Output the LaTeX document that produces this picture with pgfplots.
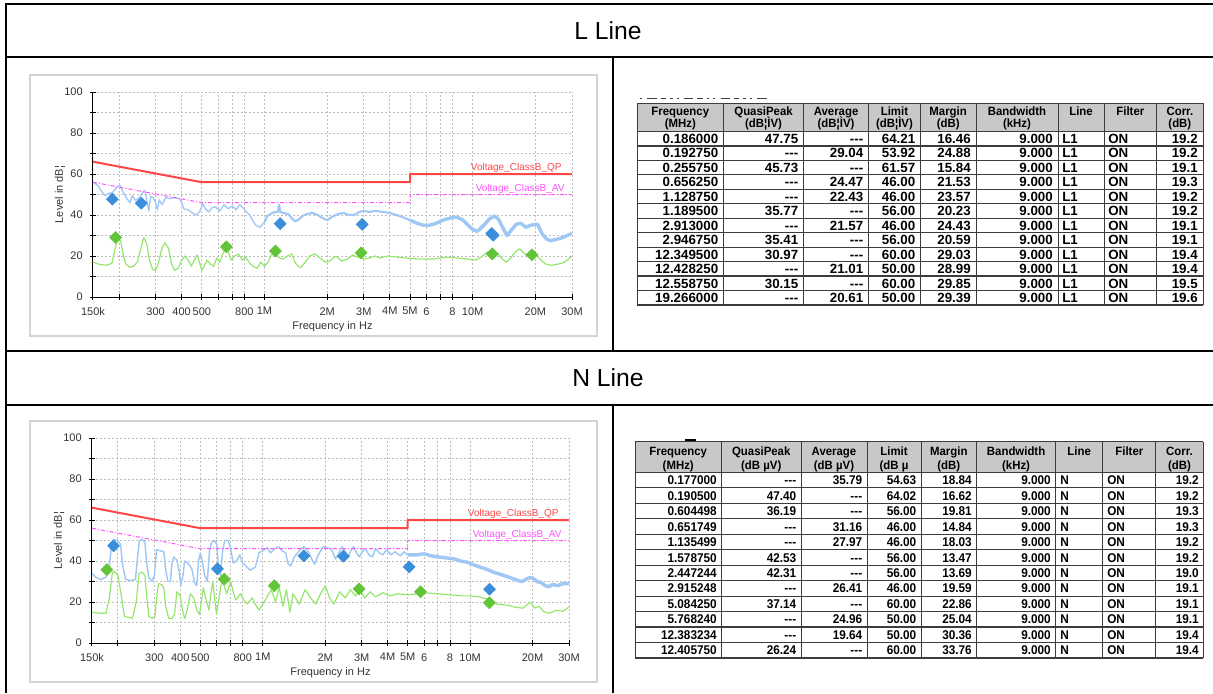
\documentclass[border=0pt]{standalone}
\usepackage{fontspec}
\setmainfont{Liberation Sans}
\newfontfamily\hdrfont[FakeStretch=0.95]{Liberation Sans}
\newfontfamily\tbfont[FakeStretch=0.93]{Liberation Sans}
\usepackage{pgfplots}
\pgfplotsset{compat=1.18}

\definecolor{qpred}{RGB}{255,70,70}
\definecolor{avmag}{RGB}{255,80,255}
\definecolor{trblue}{RGB}{160,200,245}
\definecolor{trgreen}{RGB}{150,230,110}
\definecolor{mkblue}{RGB}{58,142,218}
\definecolor{mkgreen}{RGB}{98,196,56}
\definecolor{gridg}{RGB}{190,190,190}
\definecolor{hdrgray}{RGB}{200,200,200}
\definecolor{frameg}{RGB}{212,212,212}
\definecolor{tabline}{RGB}{60,60,60}

\newcommand\nd{-{}-{}-}
\newcommand\chartfont{\fontsize{8.25}{10}\selectfont}

\pgfplotsset{/pgf/number format/assume math mode=true}
\pgfplotsset{
  qpmark/.style={only marks, mark=square*, mark size=3.2pt, mark options={rotate=45, fill=mkblue, draw=mkblue}},
  avmark/.style={only marks, mark=square*, mark size=3.2pt, mark options={rotate=45, fill=mkgreen, draw=mkgreen}},
  emiaxis/.style={
    scale only axis,
    width=359.25pt, height=153.75pt,
    xmin=0.15, xmax=30, ymin=0, ymax=100,
    axis lines=left, axis line style={-, black, line width=0.75pt},
    xtick={0.15,0.3,0.4,0.5,0.8,1,2,3,4,5,6,8,10,20,30},
    xticklabels={150k,300,400,500,800,1M,2M,3M,4M,5M,6,8,10M,20M,30M},
    minor xtick={0.2,0.6,0.7,7},
    ytick={0,20,40,60,80,100}, minor ytick={10,30,50,70,90},
    tick align=center, major tick length=4.5pt, minor tick length=4.5pt,
    tick style={black, line width=0.75pt},
    grid=both,
    major grid style={gridg, dash pattern=on 1.5pt off 1.5pt, line width=0.75pt},
    minor grid style={gridg, dash pattern=on 1.5pt off 1.5pt, line width=0.75pt},
    tick label style={font=\chartfont, text=black!80},
    xticklabel style={yshift=-2pt}, yticklabel style={xshift=-2pt},
    xlabel={Frequency in Hz}, ylabel={Level in dB¦},
    label style={font=\chartfont, text=black!80},
    xlabel style={at={(axis description cs:0.5,-0.146)}, anchor=center},
    ylabel style={at={(axis description cs:-0.069,0.5)}, anchor=center},
    every axis plot/.append style={line join=round},
  }
}

\begin{document}
\begin{tikzpicture}
\begin{scope}[x=0.75pt, y=-0.75pt]
\useasboundingbox (0,0) rectangle (1213,693);
% outer layout
\draw[black, line width=1.5pt] (6,4) -- (1213,4);
\draw[black, line width=1.5pt] (6,3) -- (6,693);
\draw[black, line width=1.5pt] (6,57) -- (1213,57);
\draw[black, line width=1.5pt] (6,351) -- (1213,351);
\draw[black, line width=1.5pt] (6,405) -- (1213,405);
\draw[black, line width=1.5pt] (613,57) -- (613,351);
\draw[black, line width=1.5pt] (613,405) -- (613,693);
\node[font=\fontsize{18.5}{20}\selectfont] at (608,31) {L Line};
\node[font=\fontsize{18.5}{20}\selectfont] at (608,378) {N Line};
% chart frames
\draw[frameg, line width=1.5pt] (30,75) rectangle (597,336);
\draw[frameg, line width=1.5pt] (30,421) rectangle (597,682);
\coordinate (p1) at (93,297);
\coordinate (p2) at (92,643);

% ---- table 1 (L line)
\fill[hdrgray] (637,103.3) rectangle (1203,131.5);
\draw[black!75, line width=0.9pt, dash pattern=on 1.5pt off 4pt on 7pt off 3pt on 4pt off 3pt on 2pt off 3pt] (640,98.5) -- (768,98.5);
\foreach \cx in {637,723.6,803.5,868.6,920.3,976,1058,1104,1156.7,1203}
  \draw[tabline, line width=0.75pt] (\cx,103.3) -- (\cx,305);
\draw[tabline, line width=0.9pt] (637,103.3) -- (1203,103.3);
\foreach \r in {0,...,12}
  \draw[tabline, line width=0.9pt] (637,{131.5+14.458*\r}) -- (1203,{131.5+14.458*\r});
\begin{scope}[every node/.style={anchor=base, inner sep=0pt, font=\hdrfont\bfseries\fontsize{9}{10}\selectfont}]
\node at (680.3,115.5) {Frequency};  \node at (680.3,127) {(MHz)};
\node at (763.55,115.5) {QuasiPeak}; \node at (763.55,127) {(dB¦ÌV)};
\node at (836.05,115.5) {Average};   \node at (836.05,127) {(dB¦ÌV)};
\node at (894.45,115.5) {Limit};     \node at (894.45,127) {(dB¦ÌV)};
\node at (948.15,115.5) {Margin};    \node at (948.15,127) {(dB)};
\node at (1017,115.5) {Bandwidth};   \node at (1017,127) {(kHz)};
\node at (1081,115.5) {Line};
\node at (1130.35,115.5) {Filter};
\node at (1179.85,115.5) {Corr.};    \node at (1179.85,127) {(dB)};
\end{scope}
\begin{scope}[every node/.style={inner sep=0pt, font=\bfseries\fontsize{10}{12}\selectfont}]
\foreach \f/\q/\a/\l/\m/\c [count=\i from 0] in {
  0.186000/47.75/\nd/64.21/16.46/19.2,
  0.192750/\nd/29.04/53.92/24.88/19.2,
  0.255750/45.73/\nd/61.57/15.84/19.1,
  0.656250/\nd/24.47/46.00/21.53/19.3,
  1.128750/\nd/22.43/46.00/23.57/19.2,
  1.189500/35.77/\nd/56.00/20.23/19.2,
  2.913000/\nd/21.57/46.00/24.43/19.1,
  2.946750/35.41/\nd/56.00/20.59/19.1,
  12.349500/30.97/\nd/60.00/29.03/19.4,
  12.428250/\nd/21.01/50.00/28.99/19.4,
  12.558750/30.15/\nd/60.00/29.85/19.5,
  19.266000/\nd/20.61/50.00/29.39/19.6}{
  \pgfmathsetmacro\yy{131.5+14.458*\i+7.23+4.8}
  \node[anchor=base east] at (718.5,\yy) {\f};
  \node[anchor=base east] at (798.5,\yy) {\q};
  \node[anchor=base east] at (863.5,\yy) {\a};
  \node[anchor=base east] at (915.5,\yy) {\l};
  \node[anchor=base east] at (971,\yy) {\m};
  \node[anchor=base east] at (1053,\yy) {9.000};
  \node[anchor=base west] at (1062,\yy) {L1};
  \node[anchor=base west] at (1108,\yy) {ON};
  \node[anchor=base east] at (1198,\yy) {\c};
}
\end{scope}

% ---- table 2 (N line)
\fill[hdrgray] (635,441.7) rectangle (1203,472.3);
\draw[black, line width=1.5pt] (685,440) -- (696,440);
\foreach \cx in {635,721.5,801,867,921,976.6,1055.6,1102.8,1155.9,1203}
  \draw[tabline, line width=0.75pt] (\cx,441.7) -- (\cx,658);
\draw[tabline, line width=0.9pt] (635,441.7) -- (1203,441.7);
\foreach \r in {0,...,12}
  \draw[tabline, line width=0.9pt] (635,{472.3+15.475*\r}) -- (1203,{472.3+15.475*\r});
\begin{scope}[every node/.style={anchor=base, inner sep=0pt, font=\hdrfont\bfseries\fontsize{9}{10}\selectfont}]
\node at (678.25,455.5) {Frequency}; \node at (678.25,469) {(MHz)};
\node at (761.25,455.5) {QuasiPeak}; \node at (761.25,469) {(dB µV)};
\node at (834,455.5) {Average};      \node at (834,469) {(dB µV)};
\node at (894,455.5) {Limit};        \node at (894,469) {(dB µ};
\node at (948.8,455.5) {Margin};     \node at (948.8,469) {(dB)};
\node at (1016.1,455.5) {Bandwidth}; \node at (1016.1,469) {(kHz)};
\node at (1079.2,455.5) {Line};
\node at (1129.35,455.5) {Filter};
\node at (1179.45,455.5) {Corr.};    \node at (1179.45,469) {(dB)};
\end{scope}
\begin{scope}[every node/.style={inner sep=0pt, font=\tbfont\bfseries\fontsize{9.5}{11}\selectfont}]
\foreach \f/\q/\a/\l/\m/\c [count=\i from 0] in {
  0.177000/\nd/35.79/54.63/18.84/19.2,
  0.190500/47.40/\nd/64.02/16.62/19.2,
  0.604498/36.19/\nd/56.00/19.81/19.3,
  0.651749/\nd/31.16/46.00/14.84/19.3,
  1.135499/\nd/27.97/46.00/18.03/19.2,
  1.578750/42.53/\nd/56.00/13.47/19.2,
  2.447244/42.31/\nd/56.00/13.69/19.0,
  2.915248/\nd/26.41/46.00/19.59/19.1,
  5.084250/37.14/\nd/60.00/22.86/19.1,
  5.768240/\nd/24.96/50.00/25.04/19.1,
  12.383234/\nd/19.64/50.00/30.36/19.4,
  12.405750/26.24/\nd/60.00/33.76/19.4}{
  \pgfmathsetmacro\yy{472.3+15.475*\i+7.74+4.6}
  \node[anchor=base east] at (717,\yy) {\f};
  \node[anchor=base east] at (796.5,\yy) {\q};
  \node[anchor=base east] at (862.5,\yy) {\a};
  \node[anchor=base east] at (916.5,\yy) {\l};
  \node[anchor=base east] at (972,\yy) {\m};
  \node[anchor=base east] at (1051,\yy) {9.000};
  \node[anchor=base west] at (1060,\yy) {N};
  \node[anchor=base west] at (1107,\yy) {ON};
  \node[anchor=base east] at (1199,\yy) {\c};
}
\end{scope}
\end{scope}

% ---- L line chart
\begin{semilogxaxis}[emiaxis, at={(p1)}, anchor=south west]
% peak trace, below 1 MHz
\addplot[trblue, line width=1pt] coordinates {
(0.150,56.0)(0.158,54.5)(0.165,51.5)(0.171,49.5)(0.178,50.5)(0.186,51.0)(0.195,53.5)
(0.202,54.5)(0.210,51.0)(0.218,48.0)(0.226,46.0)(0.232,49.5)(0.240,47.0)(0.250,48.5)
(0.258,50.5)(0.266,52.0)(0.272,47.0)(0.278,42.0)(0.284,49.0)(0.292,48.5)(0.300,46.0)
(0.306,42.5)(0.312,47.5)(0.322,45.0)(0.335,48.5)(0.350,48.0)(0.370,48.5)(0.390,48.0)
(0.400,46.0)(0.410,43.0)(0.430,42.5)(0.450,41.0)(0.470,40.0)(0.490,42.0)(0.505,45.5)
(0.520,43.0)(0.540,41.5)(0.560,43.5)(0.580,44.0)(0.610,42.0)(0.640,45.0)(0.670,43.0)
(0.700,44.5)(0.730,42.5)(0.760,45.0)(0.790,43.5)(0.820,41.5)(0.850,40.0)(0.880,37.0)
(0.910,35.0)(0.950,34.0)(0.980,35.5)(1.000,36.5)};
% peak trace, 1 to 5 MHz
\addplot[trblue, line width=1.6pt] coordinates {
(1.000,36.5)(1.030,39.5)(1.070,40.5)(1.120,41.5)
(1.160,41.5)(1.175,45.0)(1.190,41.5)(1.230,41.0)(1.300,40.5)(1.350,38.5)(1.400,37.0)
(1.450,37.5)(1.520,39.5)(1.600,40.5)(1.700,41.0)(1.800,40.0)(1.900,38.5)(2.000,37.5)
(2.100,39.0)(2.250,40.5)(2.400,41.0)(2.550,40.0)(2.700,40.0)(2.850,41.5)(3.000,42.0)
(3.200,41.5)(3.400,42.0)(3.700,41.5)(4.000,41.0)(4.300,40.0)(4.600,39.0)(5.000,37.5)};
% peak trace, above 5 MHz
\addplot[trblue, line width=2.6pt] coordinates {
(5.000,37.5)(5.400,36.0)(5.800,35.0)(6.200,35.0)(6.700,36.0)(7.200,37.5)(7.800,38.5)(8.400,39.0)
(9.000,37.5)(9.500,35.0)(10.00,33.0)(10.50,32.0)(11.20,34.5)(12.00,38.0)(12.70,39.5)
(13.30,38.0)(14.00,33.5)(14.60,30.0)(15.30,32.5)(16.20,35.5)(17.00,36.0)(18.00,34.0)
(19.00,35.0)(20.50,35.5)(21.50,31.0)(22.50,28.5)(23.50,27.5)(25.00,28.0)(27.00,29.0)
(28.50,30.0)(30.00,31.0)};
\addplot[trgreen, line width=0.9pt] coordinates {
(0.150,17)(0.160,16)(0.175,15.5)(0.185,16.5)(0.192,24)(0.198,29.5)(0.204,27)(0.210,20)
(0.216,16)(0.225,14.5)(0.235,15)(0.245,17)(0.255,24)(0.263,29)(0.272,26)(0.280,18)
(0.290,13.5)(0.300,13)(0.310,17)(0.320,23)(0.332,26.5)(0.345,24)(0.358,16)(0.370,13)
(0.385,14)(0.400,18)(0.415,20)(0.430,18)(0.445,15)(0.460,18)(0.475,20.5)(0.490,16)
(0.500,13)(0.515,15.5)(0.530,18)(0.550,16)(0.570,15)(0.590,19)(0.610,17)(0.630,21)
(0.650,24)(0.670,22)(0.690,18)(0.720,20)(0.750,21)(0.780,18)(0.810,19.5)(0.850,16.5)
(0.880,15)(0.920,14)(0.960,17)(1.000,15)(1.040,17)(1.080,20.5)(1.130,21)(1.180,19)
(1.230,18.5)(1.290,20)(1.350,21)(1.400,17)(1.450,15)(1.500,14.5)(1.570,17)(1.650,20)
(1.750,21)(1.850,19)(1.950,17)(2.050,17.5)(2.200,20)(2.350,17.5)(2.500,18.5)(2.650,20.5)
(2.800,19.5)(3.000,18.5)(3.200,19)(3.400,20)(3.600,19)(3.900,20)(4.300,19.5)(4.800,19)
(5.500,18.5)(6.500,18.5)(7.500,19.5)(8.500,19)(9.500,18.5)(10.30,18)(11.00,19.5)
(11.80,22)(12.50,22.5)(13.20,21)(13.90,18.5)(14.50,17)(15.20,19)(16.00,22)(16.80,23.5)
(17.60,21.5)(18.30,20)(19.00,21.5)(19.70,22)(20.50,20)(21.50,17.5)(22.50,16)(24.00,15.5)
(25.50,16)(27.00,16.5)(28.50,18)(30.00,20)};
\addplot[avmag, line width=0.75pt, dash pattern=on 3pt off 1.5pt on 0.75pt off 1.5pt]
  coordinates {(0.15,56)(0.5,46)(5,46)(5,50)(30,50)};
\addplot[qpred, line width=1.5pt] coordinates {(0.15,66)(0.5,56)(5,56)(5,60)(30,60)};
\addplot[qpmark] coordinates {(0.186,47.75)(0.25575,45.73)(1.1895,35.77)(2.94675,35.41)(12.3495,30.97)(12.55875,30.15)};
\addplot[avmark] coordinates {(0.19275,29.04)(0.65625,24.47)(1.12875,22.43)(2.913,21.57)(12.42825,21.01)(19.266,20.61)};
\node[anchor=base east, inner sep=0pt, text=qpred, font=\fontsize{7.5}{9}\selectfont] at (axis cs:26.8,61.5) {Voltage\_ClassB\_QP};
\node[anchor=base east, inner sep=0pt, text=avmag, font=\fontsize{7.5}{9}\selectfont] at (axis cs:27.7,51.7) {Voltage\_ClassB\_AV};
\end{semilogxaxis}

% ---- N line chart
\begin{semilogxaxis}[emiaxis, at={(p2)}, anchor=south west, width=357.75pt]
\addplot[trblue, line width=1.1pt] coordinates {
(0.150,34)(0.157,32)(0.165,31)(0.175,32)(0.182,38)(0.187,49)(0.192,50.5)(0.200,50)
(0.206,48)(0.211,38)(0.218,31)(0.230,30.5)(0.243,31)(0.249,42)(0.254,50)(0.262,50.5)
(0.270,49)(0.276,38)(0.282,32)(0.292,30)(0.300,33)(0.307,45.5)(0.320,45)(0.333,44.5)
(0.340,36)(0.348,30)(0.358,30)(0.365,39)(0.372,42)(0.385,40.5)(0.395,35)(0.402,28)
(0.412,33)(0.420,40)(0.440,38.5)(0.455,36)(0.470,29)(0.480,28)(0.490,40)(0.500,44)
(0.510,40)(0.525,33)(0.540,30)(0.553,45)(0.565,49)(0.585,50)(0.600,48)(0.612,36)
(0.625,33)(0.640,45)(0.655,50)(0.680,50)(0.700,46)(0.720,39)(0.745,40)(0.775,43)
(0.800,39)(0.840,37)(0.870,35.5)(0.920,37)(0.960,44)(1.000,45)(1.050,46.5)(1.090,44)
(1.130,45.5)(1.190,47)(1.240,45)(1.290,44)(1.320,39)(1.360,37.5)(1.420,42)(1.500,45)
(1.580,47)(1.660,44.5)(1.740,40)(1.780,38.5)(1.850,43)(1.960,47)(2.050,46.5)(2.150,45.5)
(2.240,41)(2.330,44)(2.410,47)(2.500,44.5)(2.580,42)(2.660,45)(2.740,47)(2.830,44)
(2.920,42)(3.020,44.5)(3.130,46)(3.250,43)(3.380,42)(3.500,46)(3.650,44)(3.800,43)
(3.950,45.5)(4.150,43)(4.350,44.5)(4.600,42.5)(4.800,44.5)(5.000,43)};
\addplot[trblue, line width=2.6pt] coordinates {
(5.000,43)(5.500,43)
(6.000,43.5)(6.500,42.5)(7.000,42)(7.700,41.5)(8.400,41)(9.000,40)(9.600,39.5)
(10.50,38)(11.20,37)(12.00,36)(13.00,34.5)(14.00,33.5)(15.00,32.5)(16.00,31.5)
(17.00,30.5)(17.80,30)(18.50,31)(19.50,32)(20.20,31.5)(21.00,30)(22.00,29.5)(23.00,28)
(24.00,27.5)(25.00,28.5)(26.50,28)(28.00,29)(30.00,29)};
\addplot[trgreen, line width=0.9pt] coordinates {
(0.150,15)(0.165,14.5)(0.175,14.5)(0.182,22)(0.188,34)(0.192,35)(0.200,33)(0.207,24)
(0.215,13)(0.225,12.5)(0.235,12)(0.245,20)(0.253,34)(0.262,34.5)(0.270,33)(0.276,22)
(0.282,13)(0.292,12)(0.302,13)(0.309,24)(0.314,29)(0.325,28.5)(0.333,27)(0.340,18)
(0.352,12)(0.365,12)(0.375,14)(0.385,25)(0.400,23)(0.410,16)(0.420,12)(0.432,16)
(0.447,24)(0.465,22)(0.480,16)(0.495,14)(0.505,20)(0.516,27)(0.530,22)(0.550,16)
(0.562,24)(0.574,30)(0.585,22)(0.598,14)(0.615,22)(0.636,31)(0.655,27)(0.670,24)
(0.700,30)(0.720,25)(0.740,21)(0.780,24)(0.810,21)(0.840,19)(0.890,22)(0.930,18)
(0.960,16)(1.000,19)(1.070,24)(1.100,26)(1.150,20)(1.200,27)(1.250,18)(1.300,26)
(1.350,15)(1.400,24)(1.500,19)(1.600,26)(1.700,22)(1.800,19)(1.900,24)(2.000,28)
(2.100,22)(2.200,19)(2.350,25)(2.500,22)(2.650,26)(2.800,23)(2.950,26)(3.100,22)
(3.300,25)(3.500,22.5)(3.800,24.5)(4.100,23)(4.500,24)(5.000,23.5)(6.000,24.5)
(7.000,24)(8.000,23.5)(9.000,23)(10.00,23)(11.00,22.5)(12.00,21.5)(12.60,20)
(13.50,19)(15.00,18.5)(16.50,17.5)(18.00,17)(19.50,20)(20.50,17)(21.50,18)(22.50,15.5)
(24.00,14.5)(26.00,16)(28.00,15.5)(30.00,17.5)};
\addplot[avmag, line width=0.75pt, dash pattern=on 3pt off 1.5pt on 0.75pt off 1.5pt]
  coordinates {(0.15,56)(0.5,46)(5,46)(5,50)(30,50)};
\addplot[qpred, line width=1.5pt] coordinates {(0.15,66)(0.5,56)(5,56)(5,60)(30,60)};
\addplot[qpmark] coordinates {(0.1905,47.40)(0.604498,36.19)(1.57875,42.53)(2.447244,42.31)(5.08425,37.14)(12.40575,26.24)};
\addplot[avmark] coordinates {(0.177,35.79)(0.651749,31.16)(1.135499,27.97)(2.915248,26.41)(5.76824,24.96)(12.383234,19.64)};
\node[anchor=base east, inner sep=0pt, text=qpred, font=\fontsize{7.5}{9}\selectfont] at (axis cs:26.8,61.5) {Voltage\_ClassB\_QP};
\node[anchor=base east, inner sep=0pt, text=avmag, font=\fontsize{7.5}{9}\selectfont] at (axis cs:27.7,51.7) {Voltage\_ClassB\_AV};
\end{semilogxaxis}
\end{tikzpicture}
\end{document}
